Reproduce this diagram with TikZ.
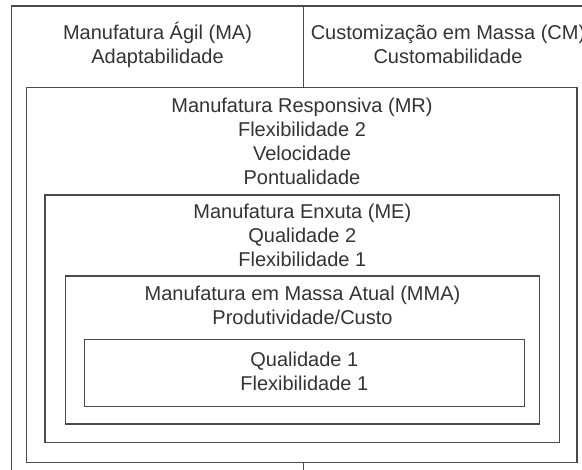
\documentclass[tikz,border=0pt]{standalone}
\usepackage{fontspec}
\setmainfont{Liberation Sans}
\definecolor{txt}{HTML}{333333}
\definecolor{edge}{HTML}{4A4A4A}
\begin{document}
\begin{tikzpicture}[x=1pt,y=-1pt,
  box/.style={draw=edge, line width=1.2pt, rectangle, inner sep=0pt, outer sep=0pt, anchor=north west},
  lbl/.style={anchor=base, inner sep=0pt, text=txt, font=\fontsize{20pt}{24pt}\selectfont},
  divider/.style={draw=edge, line width=1.2pt}]
  \clip (0,0) rectangle (582,470);

  % nested frames
  \node[box, minimum width=581pt, minimum height=472pt] (outer) at (11.7,6) {};
  \node[box, minimum width=550.3pt, minimum height=375.4pt] (mr) at (26.7,87.3) {};
  \node[box, minimum width=514.7pt, minimum height=247.3pt] (me) at (45,195) {};
  \node[box, minimum width=473.6pt, minimum height=148pt] (mma) at (65.7,276) {};
  \node[box, minimum width=440pt, minimum height=67.2pt] (core) at (84.3,339.5) {};

  % vertical split between the two top cells
  \coordinate (divtop) at (303.3,6);
  \draw[divider] (divtop) -- (divtop |- mr.north);
  \draw[divider] (mr.south -| divtop) -- (outer.south -| divtop);

  % top cells
  \node[lbl] (ma1) at (157.5,39.5) {Manufatura Ágil (MA)};
  \node[lbl] (ma2) at (157.5,63.5) {Adaptabilidade};
  \node[lbl] (cm1) at (448,39.5) {Customização em Massa (CM)};
  \node[lbl] (cm2) at (448,63.5) {Customabilidade};

  % responsive manufacturing
  \node[lbl] (mr1) at (302,112.6) {Manufatura Responsiva (MR)};
  \node[lbl] (mr2) at (302,136.6) {Flexibilidade 2};
  \node[lbl] (mr3) at (302,160.6) {Velocidade};
  \node[lbl] (mr4) at (302,184.6) {Pontualidade};

  % lean manufacturing
  \node[lbl] (me1) at (302.3,218.5) {Manufatura Enxuta (ME)};
  \node[lbl] (me2) at (302.3,242.5) {Qualidade 2};
  \node[lbl] (me3) at (302.3,266.5) {Flexibilidade 1};

  % current mass manufacturing
  \node[lbl] (mma1) at (302.5,300.5) {Manufatura em Massa Atual (MMA)};
  \node[lbl] (mma2) at (302.5,324.5) {Produtividade/Custo};

  % core
  \node[lbl] (core1) at (304.3,366.5) {Qualidade 1};
  \node[lbl] (core2) at (304.3,390.5) {Flexibilidade 1};
\end{tikzpicture}
\end{document}
